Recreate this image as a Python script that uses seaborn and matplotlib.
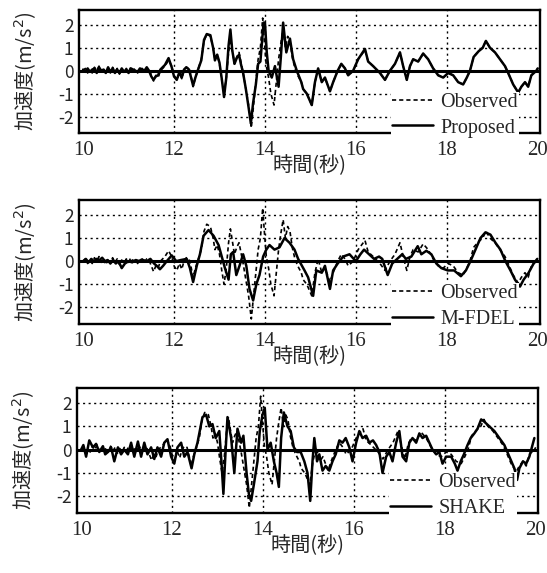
import numpy as np
import pandas as pd
import matplotlib
matplotlib.use("Agg")
import matplotlib.pyplot as plt
import seaborn as sns

# ---------------- data ----------------
obs_t = [10.0, 10.05, 10.1, 10.15, 10.2, 10.25, 10.3, 10.35, 10.4, 10.45, 10.5, 10.55, 10.6, 10.65,
         10.7, 10.75, 10.8, 10.85, 10.9, 10.95, 11.0, 11.05, 11.1, 11.15, 11.2, 11.25, 11.3, 11.35,
         11.4, 11.45, 11.5, 11.55, 11.6, 11.65, 11.7, 11.8, 11.88, 11.95, 12.0, 12.06, 12.12, 12.17,
         12.22, 12.27, 12.33, 12.38, 12.42, 12.47, 12.52, 12.6, 12.66, 12.72, 12.8, 12.86, 12.9, 12.95,
         13.0, 13.05, 13.1, 13.15, 13.2, 13.24, 13.28, 13.33, 13.38, 13.43, 13.47, 13.52, 13.58, 13.64,
         13.7, 13.75, 13.8, 13.85, 13.9, 13.95, 13.99, 14.03, 14.08, 14.13, 14.2, 14.25, 14.3, 14.35,
         14.4, 14.45, 14.5, 14.55, 14.6, 14.66, 14.72, 14.8, 14.84, 14.92, 15.03, 15.1, 15.17, 15.25,
         15.32, 15.43, 15.5, 15.6, 15.68, 15.76, 15.83, 15.94, 16.05, 16.2, 16.27, 16.38, 16.53, 16.64,
         16.75, 16.86, 16.97, 17.04, 17.12, 17.19, 17.26, 17.37, 17.48, 17.59, 17.7, 17.81, 17.92, 18.03,
         18.14, 18.25, 18.36, 18.44, 18.51, 18.59, 18.7, 18.79, 18.86, 18.95, 19.06, 19.17, 19.28, 19.35,
         19.46, 19.57, 19.64, 19.72, 19.79, 19.86, 19.97, 20.0]
obs_v = [0.0, 0.1, -0.1, 0.05, -0.1, 0.15, 0.0, 0.2, -0.05, 0.1, -0.15, 0.1, -0.1, 0.15,
         -0.05, 0.1, -0.15, 0.05, -0.1, 0.1, -0.05, 0.15, 0.0, 0.1, -0.1, 0.05, 0.1, -0.05,
         0.1, 0.05, -0.2, -0.45, -0.2, -0.3, 0.0, 0.2, 0.45, 0.2, -0.2, -0.4, -0.1, -0.35,
         0.0, 0.15, 0.1, -0.3, -0.7, -0.3, 0.0, 0.5, 1.3, 1.6, 1.5, 1.0, 0.5, 0.7,
         0.3, -0.4, -1.0, -0.3, 0.8, 1.4, 0.9, 0.3, 0.6, 0.8, 0.4, -0.1, -0.8, -1.5,
         -2.5, -1.5, -0.5, 0.5, 1.0, 2.3, 1.2, 0.2, -0.3, -1.0, -1.5, -0.5, 0.5, 1.2,
         1.8, 1.0, 1.5, 1.3, 0.6, 0.1, -0.2, -0.5, -0.8, -1.0, -1.5, -0.5, 0.1, -0.5,
         -0.3, -0.9, -0.5, 0.0, 0.3, 0.1, -0.2, 0.0, 0.5, 0.9, 0.4, 0.2, -0.1, -0.4,
         0.0, 0.3, 0.8, 0.2, -0.4, 0.2, 0.5, 0.4, 0.75, 0.5, 0.1, -0.2, -0.3, -0.1,
         -0.2, -0.5, -0.6, -0.3, 0.0, 0.6, 0.85, 1.0, 1.3, 1.0, 0.8, 0.5, 0.2, -0.1,
         -0.6, -0.95, -0.7, -0.5, -0.7, -0.2, 0.0, 0.1]

prop_t = [10.0, 10.05, 10.1, 10.15, 10.2, 10.25, 10.3, 10.35, 10.4, 10.45, 10.5, 10.55, 10.6, 10.65,
          10.7, 10.75, 10.8, 10.85, 10.9, 10.95, 11.0, 11.05, 11.1, 11.15, 11.2, 11.25, 11.3, 11.35,
          11.4, 11.45, 11.5, 11.55, 11.6, 11.65, 11.7, 11.8, 11.88, 11.95, 12.0, 12.06, 12.12, 12.17,
          12.22, 12.27, 12.33, 12.38, 12.42, 12.47, 12.52, 12.6, 12.66, 12.72, 12.8, 12.86, 12.9, 12.95,
          13.0, 13.05, 13.1, 13.15, 13.2, 13.24, 13.28, 13.33, 13.38, 13.43, 13.47, 13.52, 13.58, 13.64,
          13.69, 13.74, 13.8, 13.85, 13.9, 13.97, 14.0, 14.04, 14.08, 14.15, 14.22, 14.3, 14.35, 14.4,
          14.47, 14.55, 14.62, 14.7, 14.8, 14.84, 14.92, 15.03, 15.1, 15.17, 15.25, 15.32, 15.43, 15.5,
          15.6, 15.68, 15.76, 15.83, 15.94, 16.05, 16.2, 16.27, 16.38, 16.53, 16.64, 16.75, 16.86, 16.97,
          17.04, 17.12, 17.19, 17.26, 17.37, 17.48, 17.59, 17.7, 17.81, 17.92, 18.03, 18.14, 18.25, 18.36,
          18.44, 18.51, 18.59, 18.7, 18.79, 18.86, 18.95, 19.06, 19.17, 19.28, 19.35, 19.46, 19.57, 19.64,
          19.72, 19.79, 19.86, 19.97, 20.0]
prop_v = [0.05, -0.05, 0.1, -0.05, 0.05, 0.1, -0.1, 0.15, 0.0, 0.05, -0.1, 0.15, -0.05, 0.1,
          -0.1, 0.05, -0.1, 0.1, -0.05, 0.05, -0.1, 0.1, 0.05, 0.0, -0.05, 0.1, 0.05, 0.0,
          0.15, 0.0, -0.25, -0.4, -0.25, -0.2, 0.05, 0.25, 0.55, 0.15, -0.25, -0.4, -0.05, -0.3,
          0.05, 0.15, 0.05, -0.35, -0.65, -0.3, 0.0, 0.45, 1.35, 1.6, 1.55, 1.0, 0.45, 0.7,
          0.35, -0.35, -1.15, -0.3, 1.1, 1.8, 0.9, 0.3, 0.55, 0.7, 0.3, -0.1, -0.8, -1.6,
          -2.3, -1.4, -0.6, 0.3, 0.4, 2.1, 2.1, 0.8, 0.0, -0.3, 0.2, -0.7, 0.6, 2.1,
          0.8, 1.4, 0.5, 0.0, -0.5, -0.8, -1.0, -1.5, -0.5, 0.1, -0.5, -0.3, -0.9, -0.5,
          0.0, 0.3, 0.1, -0.2, 0.0, 0.5, 0.95, 0.4, 0.2, -0.1, -0.4, 0.0, 0.3, 0.8,
          0.2, -0.4, 0.2, 0.5, 0.4, 0.75, 0.5, 0.1, -0.2, -0.3, -0.1, -0.2, -0.5, -0.6,
          -0.3, 0.0, 0.6, 0.85, 1.0, 1.3, 1.0, 0.8, 0.5, 0.2, -0.1, -0.6, -0.95, -0.7,
          -0.5, -0.7, -0.2, 0.0, 0.1]

fdel_t = [10.0, 10.06, 10.12, 10.18, 10.24, 10.3, 10.36, 10.42, 10.48, 10.54, 10.6, 10.66, 10.72,
          10.78, 10.85, 10.92, 11.0, 11.08, 11.16, 11.24, 11.32, 11.4, 11.48, 11.56, 11.62, 11.69,
          11.76, 11.84, 11.95, 12.05, 12.15, 12.28, 12.35, 12.42, 12.5, 12.57, 12.65, 12.76, 12.87,
          12.98, 13.05, 13.12, 13.2, 13.25, 13.3, 13.37, 13.44, 13.52, 13.59, 13.66, 13.74, 13.81,
          13.88, 13.96, 14.03, 14.1, 14.21, 14.32, 14.43, 14.54, 14.65, 14.73, 14.87, 14.95, 15.06,
          15.13, 15.25, 15.32, 15.43, 15.5, 15.6, 15.72, 15.86, 16.0, 16.1, 16.18, 16.29, 16.4,
          16.51, 16.58, 16.7, 16.8, 16.91, 17.02, 17.1, 17.22, 17.36, 17.44, 17.55, 17.66, 17.77,
          17.88, 18.02, 18.16, 18.31, 18.42, 18.52, 18.63, 18.74, 18.85, 18.96, 19.07, 19.18, 19.29,
          19.4, 19.5, 19.61, 19.69, 19.8, 19.91, 19.99]
fdel_v = [0.0, 0.1, -0.05, 0.1, 0.0, 0.1, 0.05, 0.15, 0.0, 0.05, -0.1, 0.05, -0.1, 0.0,
          -0.3, -0.1, 0.0, -0.05, 0.05, 0.0, 0.05, 0.0, 0.1, -0.1, -0.2, -0.35, -0.2, 0.0,
          0.25, 0.0, 0.05, 0.1, -0.3, -0.9, -0.2, 0.3, 1.1, 1.35, 1.1, 0.7, 0.2, -0.3,
          -0.8, 0.3, 0.4, -0.6, -0.2, 0.3, -0.2, -1.2, -1.7, -1.0, -0.6, 0.2, 0.5, 0.7,
          0.5, 0.6, 1.0, 0.8, 0.5, 0.1, -0.4, -0.7, -1.5, -0.4, -0.5, -0.2, -1.2, -0.4,
          -0.1, 0.2, 0.3, 0.0, 0.3, 0.5, 0.3, 0.1, 0.2, 0.1, -0.6, -0.1, 0.1, 0.3,
          0.1, 0.2, 0.65, 0.3, 0.45, 0.3, -0.1, -0.3, -0.4, -0.4, -0.65, -0.4, 0.0, 0.5,
          1.0, 1.25, 1.15, 0.8, 0.5, 0.0, -0.4, -0.8, -1.1, -0.8, -0.5, -0.1, 0.1]

shake_t = [10.0, 10.05, 10.11, 10.18, 10.26, 10.33, 10.4, 10.48, 10.53, 10.59, 10.66, 10.73, 10.81,
           10.88, 10.95, 11.03, 11.1, 11.17, 11.25, 11.32, 11.39, 11.46, 11.54, 11.61, 11.68, 11.76,
           11.83, 11.9, 11.98, 12.05, 12.12, 12.2, 12.27, 12.34, 12.43, 12.49, 12.56, 12.62, 12.67,
           12.75, 12.82, 12.89, 12.96, 13.04, 13.09, 13.13, 13.18, 13.22, 13.3, 13.37, 13.44, 13.52,
           13.57, 13.64, 13.69, 13.74, 13.8, 13.88, 13.93, 13.99, 14.04, 14.1, 14.17, 14.24, 14.3,
           14.35, 14.4, 14.46, 14.54, 14.61, 14.68, 14.75, 14.83, 14.91, 14.98, 15.04, 15.09, 15.13,
           15.19, 15.24, 15.31, 15.38, 15.46, 15.53, 15.6, 15.68, 15.75, 15.82, 15.9, 15.97, 16.05,
           16.12, 16.19, 16.27, 16.34, 16.42, 16.49, 16.56, 16.63, 16.71, 16.78, 16.85, 16.93, 17.0,
           17.07, 17.15, 17.22, 17.29, 17.37, 17.44, 17.51, 17.59, 17.66, 17.73, 17.81, 17.88, 17.95,
           18.03, 18.14, 18.22, 18.28, 18.35, 18.42, 18.5, 18.57, 18.65, 18.72, 18.8, 18.87, 18.98,
           19.09, 19.2, 19.31, 19.42, 19.53, 19.59, 19.64, 19.72, 19.79, 19.86, 19.93, 19.97]
shake_v = [0.0, 0.2, -0.3, 0.4, 0.1, 0.25, -0.1, 0.15, -0.2, -0.1, 0.1, -0.5, 0.1,
           -0.2, 0.0, -0.2, 0.3, -0.3, 0.35, -0.3, 0.3, -0.2, 0.1, -0.4, 0.1, -0.3,
           0.3, 0.45, -0.3, -0.6, 0.1, 0.3, -0.3, -0.1, -0.8, -0.2, 0.3, 0.9, 1.4,
           1.5, 1.0, 1.1, 0.5, 0.8, -0.6, -1.9, 0.0, 1.4, 0.5, -1.0, 0.9, 0.3,
           0.6, -1.0, -1.9, -2.2, -1.5, -0.5, 0.8, 1.5, 1.8, 0.0, 0.3, -0.5, -1.0,
           -1.6, 0.5, 1.6, 1.0, 0.8, 0.1, -0.1, -0.1, -0.5, -1.0, -2.2, -0.5, 0.5,
           -0.5, -0.2, -0.9, -0.7, -0.9, -0.5, -0.2, 0.4, 0.3, 0.5, 0.1, -0.5, 0.3,
           0.8, 0.5, 0.6, 0.3, 0.4, 0.2, -0.1, -1.0, -0.3, -0.1, -0.5, 0.3, 0.8,
           -0.3, -0.5, 0.3, 0.5, 0.3, 0.7, 0.5, 0.6, 0.3, 0.0, -0.2, -0.1, -0.6,
           -0.3, -0.3, -0.6, -0.9, -0.5, -0.2, 0.2, 0.5, 0.7, 0.9, 1.3, 1.2, 1.0,
           0.8, 0.5, 0.2, -0.3, -0.8, -1.3, -0.8, -0.5, -0.6, -0.3, 0.2, 0.5]

model_names = ["Proposed", "M-FDEL", "SHAKE"]
model_t = [prop_t, fdel_t, shake_t]
model_v = [prop_v, fdel_v, shake_v]
x_ticks = [10, 12, 14, 16, 18, 20]
y_ticks = [-2, -1, 0, 1, 2]
x_label = "時間(秒)"
y_label = "加速度(m/s$^2$)"

# ---------------- style ----------------
sns.set_style("white")
plt.rcParams["font.family"] = ["Liberation Serif", "Noto Sans CJK JP"]
plt.rcParams["mathtext.fontset"] = "dejavusans"

fig = plt.figure(figsize=(5.47, 5.73), dpi=100)
W, H = 547.0, 573.0
boxes = [(79, 540, 10, 133), (79, 540, 200, 324), (77, 538, 388, 513)]

for i, (name, mt, mv) in enumerate(zip(model_names, model_t, model_v)):
    l, r, t, b = boxes[i]
    ax = fig.add_axes([l / W, 1 - b / H, (r - l) / W, (b - t) / H])
    obs_df = pd.DataFrame({"t": obs_t, "v": obs_v})
    mod_df = pd.DataFrame({"t": mt, "v": mv})
    sns.lineplot(data=obs_df, x="t", y="v", ax=ax, color="black", lw=1.2,
                 sort=False, estimator=None, label="Observed", zorder=3)
    ax.lines[-1].set_dashes((2.5, 1.8))
    sns.lineplot(data=mod_df, x="t", y="v", ax=ax, color="black", lw=1.8,
                 sort=False, estimator=None, label=name, zorder=3)
    ax.axhline(0, color="black", lw=2.2, zorder=2)
    ax.set_xlim(9.91, 20.05)
    ax.set_ylim(-2.72, 2.65)
    ax.set_xticks(x_ticks)
    ax.set_yticks(y_ticks)
    ax.set_xticklabels([str(v) for v in x_ticks], fontsize=15, family="Liberation Serif")
    ax.set_yticklabels([str(v) for v in y_ticks], fontsize=12.5, family="Noto Sans CJK JP")
    ax.tick_params(axis="x", length=0, pad=6)
    ax.tick_params(axis="y", length=0, pad=4)
    for v in [12, 14, 16, 18]:
        ax.axvline(v, color="black", lw=1.0, ls=(0, (1.5, 2.5)), zorder=1)
    for v in [-2, -1, 1, 2]:
        ax.axhline(v, color="black", lw=1.0, ls=(0, (1.5, 2.5)), zorder=1)
    for s in ax.spines.values():
        s.set_color("black")
        s.set_linewidth(1.7)
    ax.set_xlabel(x_label, fontsize=14.5, family="Noto Sans CJK JP", labelpad=-4)
    ax.set_ylabel(y_label, fontsize=14.5, family=["Noto Sans CJK JP", "DejaVu Sans"], labelpad=14)
    leg = ax.legend(loc="lower right", bbox_to_anchor=(0.955, -0.045), frameon=True,
                    fancybox=False, framealpha=1, facecolor="white", edgecolor="none",
                    prop={"family": "Liberation Serif", "size": 14.5}, handlelength=2.0,
                    handletextpad=0.4, borderpad=0.05, labelspacing=0.3, borderaxespad=0)
    leg.set_zorder(10)

fig.savefig("out.png", dpi=100)
